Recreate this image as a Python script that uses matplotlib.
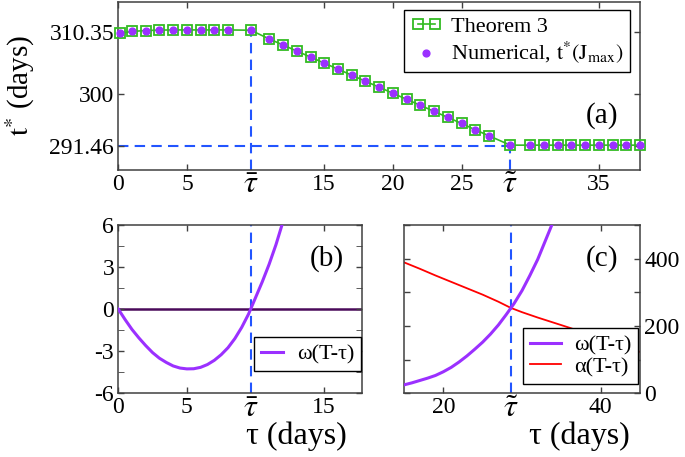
import matplotlib.pyplot as plt

plt.rcParams['font.family'] = ['Liberation Serif', 'DejaVu Serif']
plt.rcParams['mathtext.fontset'] = 'stix'
plt.rcParams['axes.unicode_minus'] = False

# marked times
tau_bar = 9.65
tau_tilde = 28.55

# panel (a): optimal time t* vs tau
tau_a = [0.15, 1, 2, 3, 4, 5, 6, 7, 8, 9.65, 11, 12, 13, 14, 15, 16, 17, 18, 19,
         20, 21, 22, 23, 24, 25, 26, 27, 28.55, 30, 31, 32, 33, 34, 35, 36, 37, 38]
tstar_theorem = [310.10, 310.40, 310.55, 310.62, 310.65, 310.65, 310.65, 310.65, 310.65,
                 310.60, 309.15, 308.15, 307.15, 306.15, 305.15, 304.15, 303.15, 302.15,
                 301.15, 300.15, 299.15, 298.15, 297.15, 296.15, 295.15, 294.10, 293.10,
                 291.55, 291.55, 291.55, 291.55, 291.55, 291.55, 291.55, 291.55, 291.55, 291.55]
tstar_num = [310.10, 310.40, 310.55, 310.62, 310.65, 310.65, 310.65, 310.65, 310.65,
             310.60, 309.15, 308.15, 307.15, 306.15, 305.15, 304.15, 303.15, 302.15,
             301.15, 300.15, 299.15, 298.15, 297.15, 296.15, 295.15, 294.10, 293.10,
             291.55, 291.55, 291.55, 291.55, 291.55, 291.55, 291.55, 291.55, 291.55, 291.55]

# panel (b): omega(T - tau)
tau_b = [0, 0.5, 1, 1.5, 2, 2.5, 3, 3.5, 4, 4.5, 5, 5.5, 6, 6.5, 7, 7.5, 8, 8.5,
         9, 9.5, 10, 10.5, 11, 11.5, 12]
omega_b = [0, -0.75, -1.45, -2.05, -2.6, -3.1, -3.5, -3.8, -4.05, -4.2, -4.26, -4.25,
           -4.15, -3.95, -3.65, -3.25, -2.75, -2.1, -1.3, -0.35, 0.8, 1.95, 3.2, 4.6, 6.2]

# panel (c): omega and alpha
tau_c_w = [15, 16, 17, 18, 19, 20, 21, 22, 23, 24, 25, 26, 27, 28, 28.55, 29, 30, 31,
           32, 33, 34]
omega_c = [25, 31, 38, 45, 53, 64, 77, 93, 111, 131, 152, 176, 203, 234, 252, 267,
           305, 350, 398, 455, 512]
tau_c_a = [15, 17, 19, 21, 23, 25, 27, 28.55, 30, 32, 34, 36, 38, 40, 42, 44, 45]
alpha_c = [389, 370, 350, 331, 312, 293, 272, 254, 241, 225, 210, 195, 179, 164, 149,
           132, 123]

purple = '#9b30ff'
green = '#33bb22'
blue = '#2255ff'
spine_c = '#404040'


def style(ax):
    for s in ax.spines.values():
        s.set_color(spine_c)
        s.set_linewidth(1.1)
    ax.tick_params(direction='in', length=4, width=1, color=spine_c,
                   top=True, right=True, labelsize=17, pad=3)
    ax.tick_params(axis='x', which='minor', length=0, labelsize=23, pad=1)


fig = plt.figure(figsize=(6.85, 4.57), dpi=100)

# ---------------- (a)
ax1 = fig.add_axes([0.1727, 0.628, 0.7616, 0.3683])
ax1.plot([tau_bar, tau_bar], [287.43, 310.6], '--', color=blue, lw=1.5, dashes=(5, 3), zorder=1)
ax1.plot([tau_tilde, tau_tilde], [287.43, 291.55], '--', color=blue, lw=1.5, dashes=(5, 3), zorder=1)
ax1.plot([0, tau_tilde], [291.46, 291.46], '--', color=blue, lw=1.5, dashes=(5, 3), zorder=1)
ax1.plot(tau_a, tstar_theorem, '-s', color=green, mfc='none', mec=green, ms=6.8, mew=1.3,
         lw=1.2, clip_on=False, zorder=3, label='Theorem 3')
ax1.scatter(tau_a, tstar_num, s=24, color=purple, clip_on=False, zorder=4,
            label=r'Numerical, $\mathrm{t}^{*}(\mathrm{J}_{\mathrm{max}})$')
ax1.set_xlim(0, 38)
ax1.set_ylim(287.43, 315.33)
ax1.set_xticks([0, 5, 15, 20, 25, 35])
ax1.set_xticks([tau_bar, tau_tilde], [r'$\bar{\tau}$', r'$\tilde{\tau}$'], minor=True)
ax1.set_yticks([291.46, 300, 310.35], ['291.46', '300', '310.35'])
style(ax1)
ax1.set_ylabel(r'$\mathrm{t}^{*}$ (days)', fontsize=21)
ax1.yaxis.set_label_coords(-0.155, 0.5)
leg = ax1.legend(loc='upper right', bbox_to_anchor=(0.981, 0.951), fontsize=16,
                 numpoints=2, scatterpoints=1, handlelength=1.4, handletextpad=0.4,
                 labelspacing=0.1, borderpad=0.3, fancybox=False, framealpha=1,
                 edgecolor='k', borderaxespad=0)
leg.get_frame().set_linewidth(1.0)
ax1.text(0.927, 0.321, '(a)', transform=ax1.transAxes, ha='center', va='center', fontsize=21)

# ---------------- (b)
ax2 = fig.add_axes([0.1727, 0.1394, 0.3553, 0.3683])
ax2.axhline(0, color='#4a0a5a', lw=1.8, zorder=1)
ax2.axvline(tau_bar, color=blue, lw=1.5, ls='--', dashes=(5, 3), zorder=2)
ax2.plot(tau_b, omega_b, color=purple, lw=2.2, zorder=3, label='ω(T-τ)')
ax2.set_xlim(0, 17.75)
ax2.set_ylim(-6, 6)
ax2.set_xticks([0, 5, 15])
ax2.set_xticks([tau_bar], [r'$\bar{\tau}$'], minor=True)
ax2.set_yticks([-6, -3, 0, 3, 6], ['-6', '-3', '0', '3', '6'])
ax2.set_yticks([-4.5, -1.5, 1.5, 4.5], minor=True)
style(ax2)
ax2.tick_params(axis='y', which='minor', direction='in', length=4, color=spine_c, right=True)
ax2.set_xlabel('τ (days)', fontsize=23)
ax2.xaxis.set_label_coords(0.733, -0.165)
leg2 = ax2.legend(loc='upper right', bbox_to_anchor=(0.996, 0.333), fontsize=16,
                  handlelength=1.0, handletextpad=0.6, borderpad=0.3, fancybox=False,
                  framealpha=1, edgecolor='k', borderaxespad=0)
leg2.get_frame().set_linewidth(1.0)
ax2.text(0.857, 0.798, '(b)', transform=ax2.transAxes, ha='center', va='center', fontsize=21)

# ---------------- (c)
ax3 = fig.add_axes([0.5898, 0.1394, 0.3445, 0.3683])
ax3.axvline(tau_tilde, color=blue, lw=1.5, ls='--', dashes=(5, 3), zorder=1)
ax3.plot(tau_c_w, omega_c, color=purple, lw=2.2, zorder=3, label='ω(T-τ)')
ax3.plot(tau_c_a, alpha_c, color='red', lw=1.3, zorder=2, label='α(T-τ)')
ax3.set_xlim(15, 45)
ax3.set_ylim(0, 500)
ax3.set_xticks([20, 40])
ax3.set_xticks([tau_tilde], [r'$\tilde{\tau}$'], minor=True)
ax3.set_yticks([0, 100, 200, 300, 400, 500], ['0', '', '200', '', '400', ''])
style(ax3)
ax3.tick_params(axis='y', labelleft=False, labelright=True)
ax3.set_xlabel('τ (days)', fontsize=23)
ax3.xaxis.set_label_coords(0.742, -0.165)
leg3 = ax3.legend(loc='upper right', bbox_to_anchor=(0.993, 0.386), fontsize=16,
                  handlelength=1.4, handletextpad=0.6, labelspacing=0.05, borderpad=0.3,
                  fancybox=False, framealpha=1, edgecolor='k', borderaxespad=0)
leg3.get_frame().set_linewidth(1.0)
ax3.text(0.841, 0.798, '(c)', transform=ax3.transAxes, ha='center', va='center', fontsize=21)

plt.savefig('out.png', dpi=100)
